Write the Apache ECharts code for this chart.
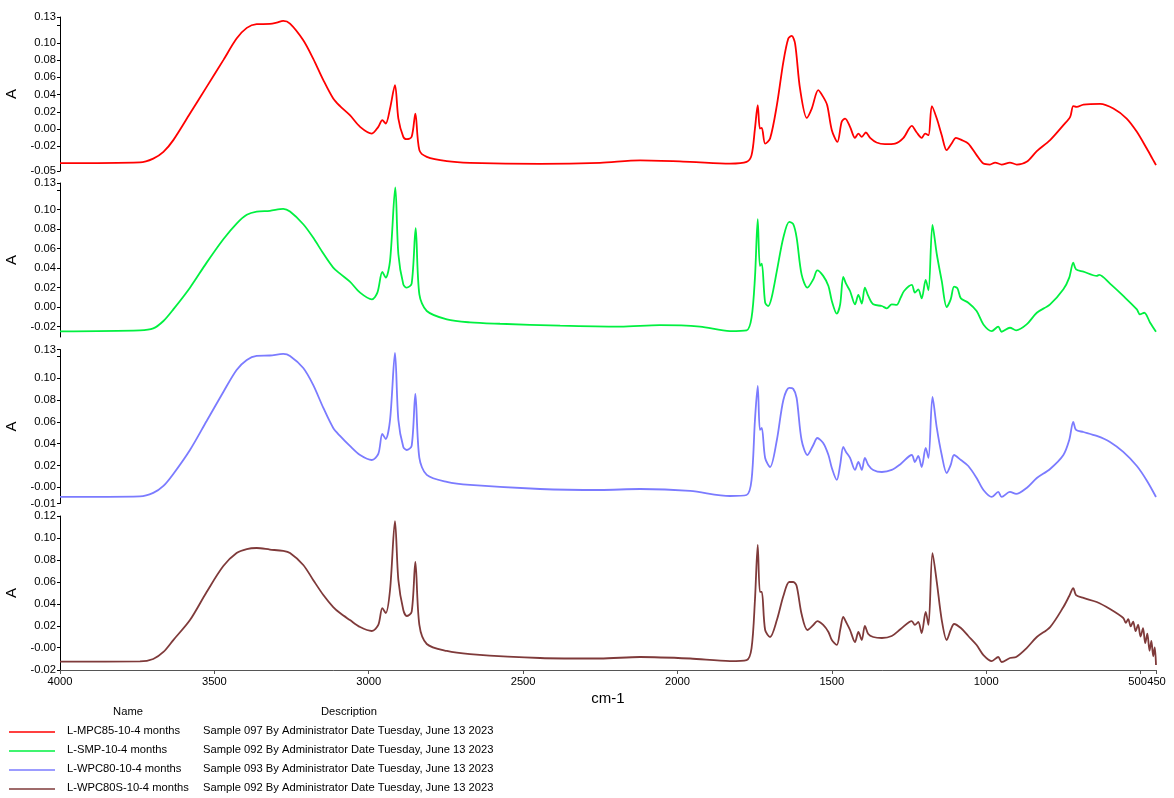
<!DOCTYPE html>
<html>
<head>
<meta charset="utf-8">
<script src="https://cdn.jsdelivr.net/npm/echarts@6/dist/echarts.min.js"></script>
<style>
html,body{margin:0;padding:0;background:#fff;}
#chart{width:1174px;height:798px;}
</style>
</head>
<body>
<div id="chart"></div>
<script>
// ---------------- DATA ----------------
const seriesNames = ["L-MPC85-10-4 months", "L-SMP-10-4 months", "L-WPC80-10-4 months", "L-WPC80S-10-4 months"];
const seriesDescriptions = [
  "Sample 097 By Administrator Date Tuesday, June 13 2023",
  "Sample 092 By Administrator Date Tuesday, June 13 2023",
  "Sample 093 By Administrator Date Tuesday, June 13 2023",
  "Sample 092 By Administrator Date Tuesday, June 13 2023"
];
const xTickValues = [4000, 3500, 3000, 2500, 2000, 1500, 1000, 500, 450];

// y ranges per panel [min, max]
const yRanges = [[-0.0485, 0.130], [-0.0308, 0.1272], [-0.0149, 0.1264], [-0.0204, 0.1205]];
// y tick label values / texts per panel
const yLabelValues1 = [-0.0485, -0.02, 0, 0.02, 0.04, 0.06, 0.08, 0.10, 0.130];
const yLabelTexts1  = ["-0.05", "-0.02", "0.00", "0.02", "0.04", "0.06", "0.08", "0.10", "0.13"];
const yLabelValues2 = [-0.0308, -0.02, 0, 0.02, 0.04, 0.06, 0.08, 0.10, 0.1272];
const yLabelTexts2  = ["-0.03", "-0.02", "0.00", "0.02", "0.04", "0.06", "0.08", "0.10", "0.13"];
const yLabelValues3 = [-0.0149, 0, 0.02, 0.04, 0.06, 0.08, 0.10, 0.1264];
const yLabelTexts3  = ["-0.01", "-0.00", "0.02", "0.04", "0.06", "0.08", "0.10", "0.13"];
const yLabelValues4 = [-0.0204, 0, 0.02, 0.04, 0.06, 0.08, 0.10, 0.1205];
const yLabelTexts4  = ["-0.02", "-0.00", "0.02", "0.04", "0.06", "0.08", "0.10", "0.12"];
const yExtraTicks = [[0.12], [0.12], [0.12], []];

// spectra: [wavenumber cm-1, absorbance]
const mpc85 = [[4000,-0.0394],[3741,-0.0385],[3698,-0.0341],[3665,-0.0263],[3633,-0.0127],[3579,0.0181],[3525,0.0490],[3471,0.0800],[3428,0.1050],[3395,0.1174],[3363,0.1217],[3320,0.1220],[3298,0.1235],[3277,0.1255],[3255,0.1224],[3212,0.1031],[3180,0.0818],[3147,0.0568],[3115,0.0355],[3093,0.0267],[3061,0.0162],[3028,0.0027],[2990,-0.0051],[2969,0.0027],[2956,0.0104],[2945,0.0065],[2931,0.0239],[2915,0.0510],[2904,0.0123],[2888,-0.0089],[2877,-0.0116],[2861,-0.0089],[2849,0.0181],[2836,-0.0243],[2812,-0.0321],[2747,-0.0371],[2672,-0.0390],[2445,-0.0402],[2251,-0.0390],[2121,-0.0362],[1959,-0.0379],[1830,-0.0399],[1776,-0.0379],[1760,-0.0301],[1749,0.0007],[1740,0.0278],[1733,0.0007],[1727,0.0015],[1716,-0.0167],[1700,-0.0109],[1678,0.0278],[1657,0.0780],[1641,0.1050],[1630,0.1081],[1619,0.0992],[1603,0.0470],[1581,0.0131],[1565,0.0239],[1544,0.0452],[1528,0.0374],[1515,0.0278],[1500,-0.0012],[1482,-0.0147],[1468,0.0085],[1457,0.0123],[1441,0.0027],[1425,-0.0101],[1414,-0.0051],[1403,-0.0089],[1390,-0.0039],[1376,-0.0101],[1355,-0.0155],[1328,-0.0174],[1295,-0.0167],[1268,-0.0101],[1241,0.0038],[1225,-0.0039],[1209,-0.0101],[1198,-0.0051],[1187,-0.0070],[1176,0.0267],[1160,0.0123],[1144,-0.0070],[1128,-0.0243],[1112,-0.0167],[1098,-0.0101],[1079,-0.0127],[1058,-0.0167],[1031,-0.0301],[1009,-0.0399],[988,-0.0410],[971,-0.0387],[950,-0.0410],[923,-0.0387],[901,-0.0410],[869,-0.0379],[836,-0.0255],[793,-0.0127],[750,0.0046],[728,0.0143],[718,0.0267],[707,0.0258],[685,0.0285],[631,0.0293],[588,0.0239],[545,0.0123],[512,-0.0031],[480,-0.0225],[459,-0.0359],[450,-0.0417]];

const smp = [[4000,-0.0250],[3741,-0.0240],[3698,-0.0220],[3665,-0.0144],[3633,-0.0025],[3579,0.0198],[3525,0.0455],[3471,0.0695],[3428,0.0856],[3395,0.0946],[3363,0.0979],[3320,0.0987],[3277,0.1007],[3255,0.0979],[3212,0.0849],[3180,0.0712],[3147,0.0548],[3115,0.0404],[3093,0.0342],[3061,0.0260],[3028,0.0147],[2990,0.0078],[2972,0.0147],[2956,0.0360],[2945,0.0301],[2931,0.0473],[2914,0.1226],[2904,0.0541],[2888,0.0232],[2877,0.0198],[2861,0.0239],[2848,0.0808],[2836,0.0129],[2812,-0.0041],[2747,-0.0127],[2672,-0.0158],[2575,-0.0172],[2380,-0.0192],[2186,-0.0202],[2057,-0.0187],[1927,-0.0202],[1830,-0.0247],[1776,-0.0240],[1760,-0.0110],[1749,0.0301],[1740,0.0900],[1733,0.0421],[1727,0.0445],[1716,0.0044],[1706,0.0010],[1695,0.0096],[1678,0.0370],[1657,0.0712],[1638,0.0874],[1625,0.0849],[1614,0.0712],[1598,0.0335],[1579,0.0198],[1560,0.0284],[1547,0.0376],[1528,0.0319],[1511,0.0216],[1500,0.0062],[1484,-0.0069],[1473,0.0027],[1463,0.0308],[1454,0.0239],[1441,0.0164],[1425,0.0027],[1414,0.0123],[1403,0.0034],[1393,0.0198],[1382,0.0113],[1366,0.0027],[1338,0.0010],[1322,-0.0014],[1306,0.0027],[1290,0.0021],[1277,0.0096],[1266,0.0164],[1241,0.0226],[1231,0.0147],[1220,0.0181],[1209,0.0088],[1196,0.0277],[1187,0.0171],[1174,0.0843],[1160,0.0541],[1144,0.0267],[1128,0.0000],[1115,0.0078],[1104,0.0209],[1093,0.0191],[1082,0.0088],[1058,0.0044],[1031,-0.0041],[1009,-0.0179],[982,-0.0247],[961,-0.0202],[950,-0.0254],[923,-0.0213],[903,-0.0240],[869,-0.0179],[836,-0.0059],[793,0.0027],[750,0.0181],[731,0.0301],[718,0.0455],[709,0.0386],[685,0.0363],[642,0.0319],[634,0.0329],[599,0.0239],[556,0.0113],[512,-0.0025],[502,-0.0076],[488,-0.0059],[469,-0.0161],[450,-0.0254]];

const wpc80 = [[4000,-0.0089],[3741,-0.0084],[3698,-0.0052],[3665,0.0012],[3633,0.0122],[3579,0.0342],[3525,0.0608],[3471,0.0874],[3428,0.1076],[3395,0.1168],[3363,0.1205],[3320,0.1209],[3277,0.1223],[3255,0.1205],[3212,0.1094],[3180,0.0939],[3147,0.0728],[3115,0.0544],[3093,0.0471],[3061,0.0379],[3028,0.0296],[2990,0.0250],[2969,0.0306],[2956,0.0489],[2945,0.0443],[2931,0.0617],[2915,0.1232],[2904,0.0617],[2888,0.0370],[2877,0.0342],[2861,0.0379],[2849,0.0856],[2836,0.0269],[2812,0.0113],[2747,0.0049],[2672,0.0021],[2445,-0.0016],[2251,-0.0025],[2121,-0.0016],[1959,-0.0034],[1830,-0.0080],[1776,-0.0071],[1760,0.0067],[1749,0.0617],[1740,0.0929],[1733,0.0526],[1727,0.0544],[1716,0.0269],[1700,0.0186],[1678,0.0434],[1657,0.0801],[1638,0.0911],[1625,0.0903],[1614,0.0819],[1598,0.0434],[1579,0.0296],[1560,0.0388],[1547,0.0452],[1528,0.0406],[1511,0.0296],[1500,0.0177],[1484,0.0067],[1473,0.0205],[1463,0.0370],[1454,0.0324],[1441,0.0269],[1425,0.0159],[1414,0.0232],[1403,0.0159],[1393,0.0269],[1382,0.0205],[1366,0.0159],[1338,0.0140],[1306,0.0159],[1277,0.0214],[1241,0.0296],[1231,0.0232],[1220,0.0287],[1209,0.0186],[1196,0.0361],[1187,0.0269],[1174,0.0828],[1160,0.0544],[1144,0.0296],[1128,0.0131],[1115,0.0205],[1104,0.0296],[1082,0.0250],[1058,0.0195],[1031,0.0085],[1009,-0.0025],[982,-0.0089],[961,-0.0043],[950,-0.0089],[923,-0.0043],[903,-0.0061],[869,-0.0006],[836,0.0085],[793,0.0168],[750,0.0296],[731,0.0434],[718,0.0599],[709,0.0526],[685,0.0507],[642,0.0471],[599,0.0416],[556,0.0324],[512,0.0195],[479,0.0058],[450,-0.0089]];

const wpc80s = [[4000,-0.0128],[3741,-0.0126],[3698,-0.0103],[3665,-0.0039],[3633,0.0070],[3579,0.0253],[3525,0.0510],[3471,0.0747],[3428,0.0866],[3395,0.0903],[3363,0.0912],[3320,0.0898],[3277,0.0885],[3255,0.0866],[3212,0.0757],[3180,0.0620],[3147,0.0482],[3115,0.0372],[3093,0.0317],[3061,0.0253],[3028,0.0189],[2990,0.0153],[2969,0.0208],[2956,0.0363],[2945,0.0317],[2931,0.0528],[2915,0.1159],[2904,0.0619],[2888,0.0345],[2877,0.0290],[2861,0.0327],[2849,0.0784],[2836,0.0208],[2812,0.0034],[2747,-0.0030],[2672,-0.0058],[2445,-0.0094],[2251,-0.0099],[2121,-0.0085],[1959,-0.0099],[1830,-0.0122],[1776,-0.0113],[1760,-0.0003],[1749,0.0436],[1740,0.0940],[1733,0.0510],[1727,0.0510],[1716,0.0162],[1700,0.0098],[1678,0.0253],[1657,0.0473],[1638,0.0601],[1625,0.0601],[1614,0.0565],[1598,0.0308],[1579,0.0162],[1560,0.0208],[1547,0.0244],[1528,0.0208],[1511,0.0144],[1500,0.0070],[1484,0.0025],[1473,0.0162],[1463,0.0281],[1454,0.0235],[1441,0.0162],[1425,0.0052],[1414,0.0144],[1403,0.0070],[1393,0.0199],[1382,0.0125],[1366,0.0098],[1338,0.0089],[1306,0.0107],[1277,0.0171],[1241,0.0244],[1231,0.0208],[1220,0.0235],[1209,0.0134],[1196,0.0327],[1187,0.0208],[1174,0.0866],[1160,0.0601],[1144,0.0253],[1128,0.0070],[1115,0.0162],[1104,0.0217],[1082,0.0180],[1058,0.0107],[1031,0.0025],[1009,-0.0067],[982,-0.0122],[961,-0.0085],[950,-0.0131],[923,-0.0094],[903,-0.0085],[869,-0.0003],[836,0.0098],[793,0.0189],[750,0.0372],[731,0.0473],[718,0.0546],[709,0.0482],[685,0.0455],[642,0.0418],[599,0.0354],[556,0.0272],[548,0.0228],[540,0.0262],[532,0.0195],[524,0.0238],[516,0.0152],[508,0.0210],[500,0.0102],[492,0.0178],[485,0.0042],[478,0.0128],[471,-0.0028],[465,0.0062],[459,-0.0078],[454,0.0002],[450,-0.0158]];

// ---------------- STYLE / LAYOUT ----------------
const colors = ["#FF0000", "#00F040", "#7B7BFF", "#7F3A3A"];
const FONT = "'Liberation Sans', Arial, sans-serif";
const FS = 11.2;
const gridTops = [17, 183, 349.5, 516];
const gridH = 154;
const spectra = [mpc85, smp, wpc80, wpc80s];
const yLabelValues = [yLabelValues1, yLabelValues2, yLabelValues3, yLabelValues4];
const yLabelTexts = [yLabelTexts1, yLabelTexts2, yLabelTexts3, yLabelTexts4];

const grids = [], xAxes = [], yAxes = [], series = [];
for (let i = 0; i < 4; i++) {
  grids.push({ left: 60, width: 1096, top: gridTops[i], height: gridH, containLabel: false, outerBoundsMode: 'none' });
  const isLast = i === 3;
  xAxes.push({
    gridIndex: i, type: 'value', min: 450, max: 4000, inverse: true,
    show: isLast,
    name: isLast ? 'cm-1' : '', nameLocation: 'middle', nameGap: 21,
    nameTextStyle: { fontFamily: FONT, fontSize: 15, color: '#000' },
    axisLine: { show: true, onZero: false, lineStyle: { color: '#555', width: 1 } },
    axisTick: { show: true, length: 4, lineStyle: { color: '#555' }, customValues: xTickValues },
    axisLabel: {
      show: true, margin: 6, fontFamily: FONT, fontSize: FS, color: '#000',
      customValues: xTickValues, hideOverlap: false,
      formatter: function (v) {
        if (v === 500) return '{l|500}';
        if (v === 450) return '{r|450}';
        return String(v);
      },
      rich: {
        l: { fontFamily: FONT, fontSize: FS, color: '#000', padding: [0, 6, 0, 0] },
        r: { fontFamily: FONT, fontSize: FS, color: '#000', padding: [0, 0, 0, 1] }
      }
    },
    splitLine: { show: false }
  });
  const lv = yLabelValues[i], lt = yLabelTexts[i];
  yAxes.push({
    gridIndex: i, type: 'value', min: yRanges[i][0], max: yRanges[i][1],
    name: 'A', nameLocation: 'middle', nameGap: 36, nameRotate: 90,
    nameTextStyle: { fontFamily: FONT, fontSize: 15, color: '#000' },
    axisLine: { show: true, onZero: false, lineStyle: { color: '#000', width: 1 } },
    axisTick: { show: true, length: 3, lineStyle: { color: '#000' }, customValues: lv.concat(yExtraTicks[i]) },
    axisLabel: {
      show: true, margin: 4, fontFamily: FONT, fontSize: FS, color: '#000',
      customValues: lv, hideOverlap: false,
      formatter: function (v) {
        let best = 0, d = Infinity;
        for (let k = 0; k < lv.length; k++) { const dd = Math.abs(lv[k] - v); if (dd < d) { d = dd; best = k; } }
        return lt[best];
      }
    },
    splitLine: { show: false }
  });
  series.push({
    name: seriesNames[i], type: 'line', xAxisIndex: i, yAxisIndex: i,
    data: spectra[i], showSymbol: false, symbol: 'none', smooth: 0.3,
    lineStyle: { color: colors[i], width: 1.8 }, itemStyle: { color: colors[i] },
    animation: false, silent: true
  });
}

// legend table drawn as graphic text + sample lines
const graphics = [
  { type: 'text', x: 128, y: 712, style: { text: 'Name', font: FS + 'px ' + FONT, fill: '#000', textAlign: 'center', textVerticalAlign: 'middle' } },
  { type: 'text', x: 349, y: 712, style: { text: 'Description', font: FS + 'px ' + FONT, fill: '#000', textAlign: 'center', textVerticalAlign: 'middle' } }
];
const rowY = [731, 750, 769, 788];
for (let i = 0; i < 4; i++) {
  graphics.push({ type: 'line', shape: { x1: 9, y1: rowY[i] + 1, x2: 55, y2: rowY[i] + 1 }, style: { stroke: colors[i], lineWidth: 1.5 } });
  graphics.push({ type: 'text', x: 67, y: rowY[i], style: { text: seriesNames[i], font: FS + 'px ' + FONT, fill: '#000', textAlign: 'left', textVerticalAlign: 'middle' } });
  graphics.push({ type: 'text', x: 203, y: rowY[i], style: { text: seriesDescriptions[i], font: FS + 'px ' + FONT, fill: '#000', textAlign: 'left', textVerticalAlign: 'middle' } });
}

const chart = echarts.init(document.getElementById('chart'), null, { renderer: 'canvas' });
chart.setOption({
  backgroundColor: '#fff',
  animation: false,
  grid: grids, xAxis: xAxes, yAxis: yAxes, series: series,
  graphic: graphics
});
</script>
</body>
</html>
